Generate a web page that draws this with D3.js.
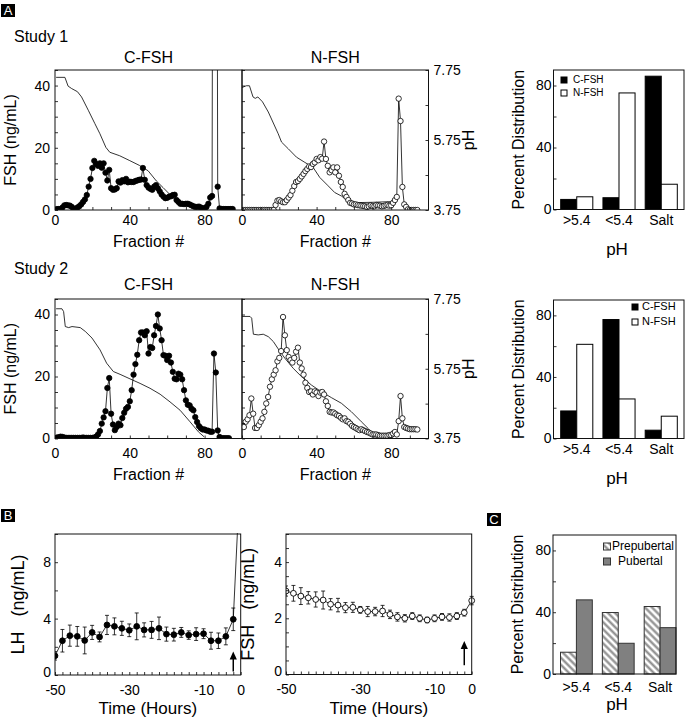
<!DOCTYPE html>
<html><head><meta charset="utf-8">
<script src="https://cdn.jsdelivr.net/npm/d3@7"></script>
<style>
body{margin:0;background:#fff}
svg{display:block}
text{font-family:"Liberation Sans",Arial,Helvetica,sans-serif;fill:#000}
</style>
</head><body>
<svg id="fig" width="685" height="719"></svg>
<script>
// ---------------- DATA ----------------
// Fraction-profile panels: value index i corresponds to fraction i+1
const study1C = [0.3,0.3,0.3,0.8,1.5,1.6,1.5,1.4,1.0,0.4,
 0.3,0.8,1.2,1.8,2.6,3.4,4.8,7.5,10.0,13.5,
 15.8,14.8,14.2,15.0,13.6,15.0,12.0,9.5,12.9,7.0,
 6.5,6.6,7.0,9.2,8.8,9.6,9.2,10.0,8.9,9.1,
 9.0,9.0,9.3,9.5,9.7,9.8,13.5,9.7,8.0,7.2,
 6.8,6.5,7.5,8.0,7.0,6.0,5.0,4.3,3.8,3.9,
 4.3,4.4,4.8,4.9,3.2,2.6,2.0,2.0,1.9,2.0,
 2.0,1.8,1.5,1.2,1.0,1.0,1.1,0.8,0.5,0.6,
 1.0,2.0,4.0,4.5,300,300,7.5,0.5,0.3,0.3,
 0.3,0.3,0.3,0.3,0.3];
const study1N = [0,0,0,0,0,0,0,0,0,0,
 0,0,0,0,0,0,0,1.6,3.0,3.2,
 2.8,2.5,2.5,3.2,4.0,4.8,6.2,7.7,9.0,9.3,
 10.0,10.8,11.6,12.5,13.2,14.0,13.8,14.8,15.3,16.4,
 16.0,17.0,16.5,22.0,16.4,14.2,12.1,12.8,13.7,12.1,
 13.7,11.0,9.0,7.4,5.2,4.2,3.2,2.3,2.1,1.8,
 1.8,1.6,1.5,1.4,1.3,1.2,1.0,1.2,1.5,1.3,
 1.2,1.6,1.5,1.4,1.2,1.3,1.5,1.6,1.4,1.5,
 2.3,3.2,4.2,35.8,28.6,7.4,1.8,1.0,0.2,0,
 0,0,0,0];
const study2C = [0.3,0.4,0.6,0.5,0.3,0.2,0.2,0.2,0.2,0.2,
 0.2,0.2,0.2,0.2,0.3,0.2,0.2,0.2,0.2,0.2,
 0.3,0.6,1.3,2.4,4.8,6.8,8.8,16.3,19.5,8.0,
 4.5,2.7,3.7,4.8,4.3,6.6,8.3,9.6,10.2,12.0,
 15.6,20.6,24.0,27.0,31.7,34.2,34.2,33.3,34.6,27.4,
 29.5,29.2,33.3,36.3,40.0,35.5,31.7,26.9,26.7,25.3,
 26.7,24.5,21.5,19.3,19.1,20.9,20.6,19.1,15.6,12.3,
 10.9,10.7,9.6,9.1,6.9,5.3,4.0,3.3,2.9,2.9,
 2.6,2.5,2.2,2.2,27.4,21.3,2.6,0.5,0.1,0.1,
 0.1,0.1,0.1];
const study2N = [3.7,5.4,6.2,7.5,12.9,8.0,3.4,3.4,4.3,5.4,
 6.5,8.6,11.3,13.4,16.7,19.1,20.6,22.0,24.9,26.0,
 28.2,39.2,33.3,28.5,26.3,25.3,24.5,26.0,28.0,29.3,
 24.5,22.6,20.6,18.0,16.3,15.0,15.2,14.2,15.2,14.8,
 13.7,14.8,15.0,14.2,12.0,10.5,8.6,8.4,8.4,8.0,
 7.5,7.3,6.7,6.2,6.5,5.6,5.4,4.8,4.1,3.7,
 3.4,3.0,2.7,3.0,2.7,2.4,2.1,1.9,1.6,1.3,
 1.3,1.3,1.1,0.9,0.9,0.9,0.9,0.9,1.1,1.1,
 1.6,2.1,1.3,5.6,13.7,6.5,3.7,3.4,3.2,3.0,
 3.0,3.0,3.0,2.9];
// pH gradient traces: [fraction, pH]
const study1CpH = [[0.6,7.54],[5.3,7.54],[7,7.29],[8.9,7.22],[12,7.13],[14.2,6.98],[17.8,6.60],[21.3,6.22],[24,5.93],[27.2,5.54],[29.3,5.40],[34.6,5.30],[40,5.16],[45.3,5.02],[49.8,4.87],[54.2,4.58],[57.8,4.39],[61.3,4.20],[64.9,4.00],[66,3.95]];
const study1NpH = [[0,7.25],[2.3,7.30],[4,7.30],[5.9,6.98],[7.1,6.94],[8.5,6.98],[11,6.84],[14.1,6.55],[19.4,5.93],[21.2,5.69],[24.8,5.50],[29.2,5.26],[33.7,5.11],[38.1,4.97],[41.7,4.68],[46.2,4.44],[49.7,4.25],[53.3,4.15],[56.9,4.01],[60.4,3.96],[70,3.97],[80,3.99]];
const study2CpH = [[0.6,7.47],[3.7,7.47],[4.6,7.39],[5.5,6.96],[7.3,6.93],[9.1,6.96],[13.5,6.93],[16.2,6.82],[19.8,6.63],[24.1,6.29],[27.6,5.91],[31.2,5.67],[34.8,5.59],[40.1,5.46],[45.5,5.33],[50.8,5.19],[56.2,5.02],[61.5,4.80],[66.9,4.56],[72.2,4.23],[76.7,3.94],[79.7,3.80]];
const study2NpH = [[0,7.25],[4.3,7.25],[5.2,7.20],[6.1,6.74],[8.7,6.72],[11.4,6.74],[14.1,6.67],[16.8,6.53],[19.4,6.32],[23,6.05],[27.5,5.76],[32,5.52],[37.3,5.28],[42.6,5.09],[48,4.92],[53.3,4.76],[58.6,4.52],[64,4.23],[67.6,4.04],[69.3,3.94],[71,3.87],[73,3.84]];
const fracTickLabels = [0,40,80];
const fshTickLabels = [0,20,40];
const pHTickLabels = [3.75,5.75,7.75];

// Percent distribution bars
const barCats = [">5.4","<5.4","Salt"];
const study1BarC = [6.5,7.6,86.0];
const study1BarN = [8.2,75.2,16.3];
const study2BarC = [17.9,77.3,5.4];
const study2BarN = [61.2,25.7,14.5];
const prepubertal = [14.1,39.8,43.7];
const pubertal = [48.0,19.9,30.0];
const pctTickLabels = [0,40,80];

// Panel B time courses
const hours = [-50,-48,-46,-44,-42,-40,-38,-36,-34,-32,-30,-28,-26,-24,-22,-20,-18,-16,-14,-12,-10,-8,-6,-4,-2,0];
const lhMean = [1.36,2.43,2.79,2.74,2.45,3.02,2.70,3.55,3.45,3.31,3.17,3.45,3.20,3.20,3.31,2.90,2.86,3.02,2.83,2.90,2.93,2.43,2.43,2.74,3.95,15.0];
const lhErr  = [0.30,0.80,0.75,0.70,0.95,0.50,0.35,0.68,0.60,0.50,0.45,0.95,0.50,0.60,0.80,0.50,0.45,0.35,0.30,0.45,0.35,0.60,0.55,0.60,0.80,0];
const fshMean = [2.97,2.89,2.79,2.73,2.67,2.65,2.50,2.47,2.38,2.39,2.30,2.24,2.24,2.26,2.14,2.05,2.00,2.08,2.00,1.94,2.00,2.05,2.03,2.08,2.20,2.63];
const fshErr  = [0.18,0.28,0.30,0.22,0.27,0.32,0.20,0.24,0.18,0.18,0.12,0.18,0.15,0.20,0.15,0.15,0.13,0.12,0.12,0.10,0.12,0.12,0.13,0.12,0.12,0.15];
const timeTickLabels = [-50,-30,-10,0];
const lhTickLabels = [0,4,8];
const fshBTickLabels = [0,2,4];
const injectionTime = -2;

// ---------------- DRAWING ----------------
const FONT = '"Liberation Sans", Arial, Helvetica, sans-serif';
const svg = d3.select('#fig');
svg.append('rect').attr('width',685).attr('height',719).attr('fill','#fff');
const defs = svg.append('defs');
let clipN = 0;
function clip(x0,y0,x1,y1){
  const id = 'c'+(clipN++);
  defs.append('clipPath').attr('id',id).append('rect').attr('x',x0).attr('y',y0).attr('width',x1-x0).attr('height',y1-y0);
  return `url(#${id})`;
}
function styleAxis(g,size){
  g.attr('font-family',FONT).attr('font-size',size);
  g.select('.domain').remove();
  g.selectAll('.tick line').attr('stroke','#000').attr('stroke-width',0.8);
  g.selectAll('.tick text').attr('fill','#000');
}
function frame(x0,y0,x1,y1){
  svg.append('rect').attr('x',x0).attr('y',y0).attr('width',x1-x0).attr('height',y1-y0)
    .attr('fill','none').attr('stroke','#111').attr('stroke-width',1);
}
function label(x,y,txt,size,anchor,rot){
  const t = svg.append('text').attr('font-size',size).attr('text-anchor',anchor||'middle').text(txt);
  if(rot) t.attr('transform',`translate(${x},${y}) rotate(${rot})`);
  else t.attr('x',x).attr('y',y);
  return t;
}
function panelTag(x,y,letter){
  svg.append('rect').attr('x',x).attr('y',y).attr('width',14).attr('height',13).attr('fill','#000');
  svg.append('text').attr('x',x+7).attr('y',y+11).attr('text-anchor','middle').attr('font-size',13).attr('fill','#fff').style('fill','#fff').text(letter);
}

function fracPanel(o){
  const x = d3.scaleLinear().domain([0,100]).range([o.x0,o.x1]);
  const y = d3.scaleLinear().domain([0,45]).range([o.y1,o.y0]);
  const p = d3.scaleLinear().domain([3.75,7.75]).range([o.y1,o.y0]);
  const plot = svg.append('g').attr('clip-path',clip(o.x0,o.y0,o.x1,o.y1));
  plot.append('path').datum(o.pH).attr('fill','none').attr('stroke','#000').attr('stroke-width',0.8)
    .attr('d',d3.line().x(d=>x(d[0])).y(d=>p(d[1])));
  const pts = o.values.map((v,i)=>({f:i+1,v:v}));
  plot.append('path').datum(pts).attr('fill','none').attr('stroke','#000').attr('stroke-width',0.8)
    .attr('d',d3.line().x(d=>x(d.f)).y(d=>y(d.v)));
  plot.selectAll('circle').data(pts).join('circle')
    .attr('cx',d=>x(d.f)).attr('cy',d=>y(d.v)).attr('r',2.7)
    .attr('fill',o.filled?'#000':'#fff').attr('stroke','#000').attr('stroke-width',0.8);
  const xa = svg.append('g').attr('transform',`translate(0,${o.y1})`)
    .call(d3.axisBottom(x).tickValues(d3.range(0,100,10)).tickSize(-3).tickPadding(o.xPad)
      .tickFormat(d=>fracTickLabels.includes(d)?d:''));
  styleAxis(xa,14);
  const ya = svg.append('g').attr('transform',`translate(${o.x0},0)`)
    .call(d3.axisLeft(y).tickValues(d3.range(0,46,5)).tickSize(-3).tickPadding(5)
      .tickFormat(d=>(o.leftLabels && fshTickLabels.includes(d))?d:''));
  styleAxis(ya,14);
  if(o.leftLabels){
    label(o.x0-39,(o.y0+o.y1)/2,'FSH (ng/mL)',16,'middle',-90);
  }
  if(o.rightAxis){
    const pa = svg.append('g').attr('transform',`translate(${o.x1},0)`)
      .call(d3.axisRight(p).tickValues([3.75,4.75,5.75,6.75,7.75]).tickSize(-3).tickPadding(5)
        .tickFormat(d=>pHTickLabels.includes(d)?d.toFixed(2):''));
    styleAxis(pa,14);
    label(o.x1+45,(o.y0+o.y1)/2,'pH',16,'middle',-90);
  }
  frame(o.x0,o.y0,o.x1,o.y1);
  label((o.x0+o.x1)/2,o.titleY,o.title,16);
  label((o.x0+o.x1)/2,o.xTitleY,'Fraction #',16);
}

function barPanel(o){
  const x = d3.scaleBand().domain(barCats).range(o.band).paddingInner(0.24).paddingOuter(0);
  const xs = d3.scaleBand().domain([0,1]).range([0,x.bandwidth()]);
  const y = d3.scaleLinear().domain([0,90]).range([o.y1,o.y0]);
  o.series.forEach((s,si)=>{
    svg.append('g').selectAll('rect').data(s.values).join('rect')
      .attr('x',(d,i)=>x(barCats[i])+xs(si)).attr('y',d=>y(d))
      .attr('width',xs.bandwidth()).attr('height',d=>y(0)-y(d))
      .attr('fill',s.fill).attr('stroke',s.stroke).attr('stroke-width',1);
  });
  const ya = svg.append('g').attr('transform',`translate(${o.x0},0)`)
    .call(d3.axisLeft(y).tickValues([0,20,40,60,80]).tickSize(-3).tickPadding(2)
      .tickFormat(d=>pctTickLabels.includes(d)?d:''));
  styleAxis(ya,14);
  const xa = svg.append('g').attr('transform',`translate(0,${o.y1})`)
    .call(d3.axisBottom(x).tickSize(0).tickPadding(o.xPad));
  styleAxis(xa,14);
  frame(o.x0,o.y0,o.x1,o.y1);
  label(o.x0-30,(o.y0+o.y1)/2,'Percent Distribution',16,'middle',-90);
  label(617,o.xTitleY,'pH',17);
  o.series.forEach((s,si)=>{
    const ly = o.legend.y + si*o.legend.dy;
    svg.append('rect').attr('x',o.legend.x).attr('y',ly).attr('width',o.legend.size).attr('height',o.legend.size)
      .attr('fill',s.fill).attr('stroke',s.stroke).attr('stroke-width',1);
    label(o.legend.tx[si],ly+o.legend.size,s.name,o.legend.font,'start');
  });
}

function timePanel(o){
  const x = d3.scaleLinear().domain([-50,0]).range([o.x0,o.x1]);
  const y = d3.scaleLinear().domain(o.yDomain).range([o.y1,o.y0]);
  const plot = svg.append('g').attr('clip-path',clip(o.x0,o.y0-1,o.x1+6,o.y1));
  const pts = hours.map((h,i)=>({h:h,m:o.mean[i],e:o.err[i]}));
  const eb = plot.append('g').attr('stroke','#000').attr('stroke-width',0.8);
  pts.filter(d=>d.e>0).forEach(d=>{
    eb.append('line').attr('x1',x(d.h)).attr('x2',x(d.h)).attr('y1',y(d.m-d.e)).attr('y2',y(d.m+d.e));
    eb.append('line').attr('x1',x(d.h)-2).attr('x2',x(d.h)+2).attr('y1',y(d.m-d.e)).attr('y2',y(d.m-d.e));
    eb.append('line').attr('x1',x(d.h)-2).attr('x2',x(d.h)+2).attr('y1',y(d.m+d.e)).attr('y2',y(d.m+d.e));
  });
  plot.append('path').datum(pts).attr('fill','none').attr('stroke','#000').attr('stroke-width',0.8)
    .attr('d',d3.line().x(d=>x(d.h)).y(d=>y(d.m)));
  plot.selectAll('circle').data(pts).join('circle')
    .attr('cx',d=>x(d.h)).attr('cy',d=>y(d.m)).attr('r',2.9)
    .attr('fill',o.filled?'#000':'#fff').attr('stroke','#000').attr('stroke-width',0.9);
  const ax = x(injectionTime), yb = y(o.arrow[0]), yt = y(o.arrow[1]);
  svg.append('line').attr('x1',ax).attr('x2',ax).attr('y1',yb).attr('y2',yt+7).attr('stroke','#000').attr('stroke-width',1.5);
  svg.append('path').attr('d',`M${ax},${yt} L${ax-3.6},${yt+8} L${ax+3.6},${yt+8} Z`).attr('fill','#000');
  const xa = svg.append('g').attr('transform',`translate(0,${o.y1})`)
    .call(d3.axisBottom(x).tickValues(d3.range(-50,1,2)).tickSize(-3).tickPadding(10)
      .tickFormat(d=>timeTickLabels.includes(d)?d:''));
  styleAxis(xa,14);
  const ya = svg.append('g').attr('transform',`translate(${o.x0},0)`)
    .call(d3.axisLeft(y).tickValues(o.yTicks).tickSize(-3).tickPadding(4)
      .tickFormat(d=>o.yLabels.includes(d)?d:''));
  styleAxis(ya,14);
  ya.selectAll('.tick text').filter(d=>d===0).attr('dy','0.1em');
  frame(o.x0,o.y0,o.x1,o.y1);
  label(o.yTitleX,(o.y0+o.y1)/2,o.yTitle,18,'middle',-90);
  label((o.x0+o.x1)/2,o.xTitleY,'Time (Hours)',17);
}

// hatch pattern
const pat = defs.append('pattern').attr('id','hatch').attr('patternUnits','userSpaceOnUse')
  .attr('width',5).attr('height',5).attr('patternTransform','rotate(-45)');
pat.append('rect').attr('width',5).attr('height',5).attr('fill','#fff');
pat.append('line').attr('x1',1.5).attr('x2',1.5).attr('y1',0).attr('y2',5).attr('stroke','#8a8a8a').attr('stroke-width',2.2);

// ---- Panel A ----
panelTag(1,4,'A');
label(14,42,'Study 1',16,'start');
fracPanel({x0:55,x1:242,y0:70,y1:210,values:study1C,pH:study1CpH,filled:true,leftLabels:true,rightAxis:false,title:'C-FSH',titleY:63,xTitleY:247,xPad:5});
fracPanel({x0:242,x1:428.5,y0:70,y1:210,values:study1N,pH:study1NpH,filled:false,leftLabels:false,rightAxis:true,title:'N-FSH',titleY:63,xTitleY:247,xPad:5});
barPanel({x0:553.5,x1:684,y0:70,y1:209.5,band:[560.7,677.3],xPad:6,xTitleY:255,
  series:[{name:'C-FSH',values:study1BarC,fill:'#000',stroke:'#000'},{name:'N-FSH',values:study1BarN,fill:'#fff',stroke:'#000'}],
  legend:{x:561,y:77,dy:13,size:6,tx:[573,573],font:10}});

label(14,274,'Study 2',16,'start');
fracPanel({x0:55,x1:242,y0:299,y1:438.5,values:study2C,pH:study2CpH,filled:true,leftLabels:true,rightAxis:false,title:'C-FSH',titleY:290,xTitleY:480,xPad:10});
fracPanel({x0:242,x1:428.5,y0:299,y1:438.5,values:study2N,pH:study2NpH,filled:false,leftLabels:false,rightAxis:true,title:'N-FSH',titleY:290,xTitleY:480,xPad:10});
barPanel({x0:553.5,x1:684,y0:300,y1:438.5,band:[560.7,677.3],xPad:6,xTitleY:484,
  series:[{name:'C-FSH',values:study2BarC,fill:'#000',stroke:'#000'},{name:'N-FSH',values:study2BarN,fill:'#fff',stroke:'#000'}],
  legend:{x:632,y:304,dy:15,size:6,tx:[642,642],font:11}});

// ---- Panel B ----
panelTag(1,509,'B');
timePanel({x0:55,x1:240.7,y0:534,y1:675,yDomain:[0,10],mean:lhMean,err:lhErr,filled:true,
  yTicks:[0,2,4,6,8,10],yLabels:lhTickLabels,yTitle:'LH\u00A0\u00A0\u00A0(ng/mL)',yTitleX:24,xTitleY:714,arrow:[0.25,1.66]});
timePanel({x0:286,x1:471.7,y0:534,y1:674.5,yDomain:[0,5],mean:fshMean,err:fshErr,filled:false,
  yTicks:d3.range(0,5.01,0.5),yLabels:fshBTickLabels,yTitle:'FSH\u00A0\u00A0\u00A0(ng/mL)',yTitleX:254,xTitleY:714,arrow:[0.33,1.19]});

// ---- Panel C ----
panelTag(487,513,'C');
barPanel({x0:553,x1:676,y0:535,y1:674,band:[560.5,676],xPad:8,xTitleY:710,
  series:[{name:'Prepubertal',values:prepubertal,fill:'url(#hatch)',stroke:'#333'},{name:'Pubertal',values:pubertal,fill:'#808080',stroke:'#333'}],
  legend:{x:603.5,y:543,dy:15,size:7,tx:[612,618],font:12}});
</script>
</body></html>
